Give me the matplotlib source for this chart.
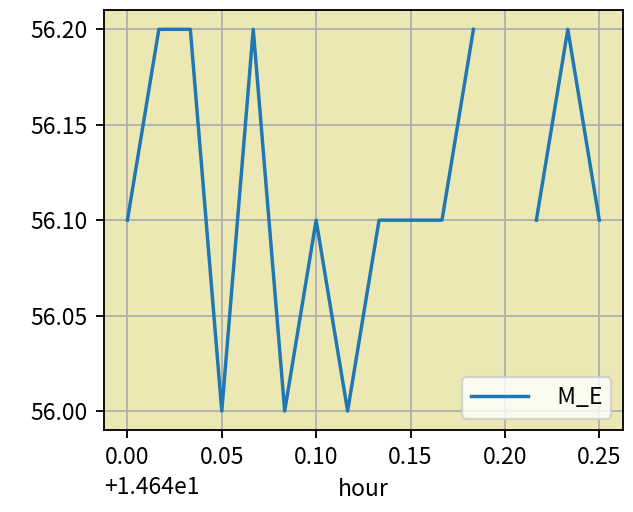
import numpy as np
from matplotlib import pyplot as plt

plt.rcParams['font.family'] = ['Noto Sans CJK SC', 'DejaVu Sans']
plt.rcParams['axes.unicode_minus'] = False

# hour values (14.64 + minutes / 60), NaN marks the missing reading
hour = [14.64 + i / 60 for i in range(16)]
m_e = [56.10, 56.20, 56.20, 56.00, 56.20, 56.00, 56.10, 56.00,
       56.10, 56.10, 56.10, 56.20, np.nan, 56.10, 56.20, 56.10]

fig, ax = plt.subplots(figsize=(633 / 165, 512 / 165), dpi=165)
ax.set_facecolor('#ebe8b3')
ax.plot(hour, m_e, color='#1f77b4', label='  M_E', zorder=3)
ax.grid(True)
ax.set_xlabel('hour')
ax.ticklabel_format(axis='x', useOffset=14.64)
ax.set_xticks([14.64, 14.69, 14.74, 14.79, 14.84, 14.89])
ax.set_yticks([56.00, 56.05, 56.10, 56.15, 56.20])
ax.set_yticklabels(['56.00', '56.05', '56.10', '56.15', '56.20'])

# offset text sits bottom-left in the original
off = ax.xaxis.get_offset_text()
off.set_x(0)
off.set_horizontalalignment('left')

ax.legend(loc='lower right', handlelength=2.5)

plt.subplots_adjust(left=0.164, right=0.984, top=0.98, bottom=0.16)
plt.savefig('out.png')
